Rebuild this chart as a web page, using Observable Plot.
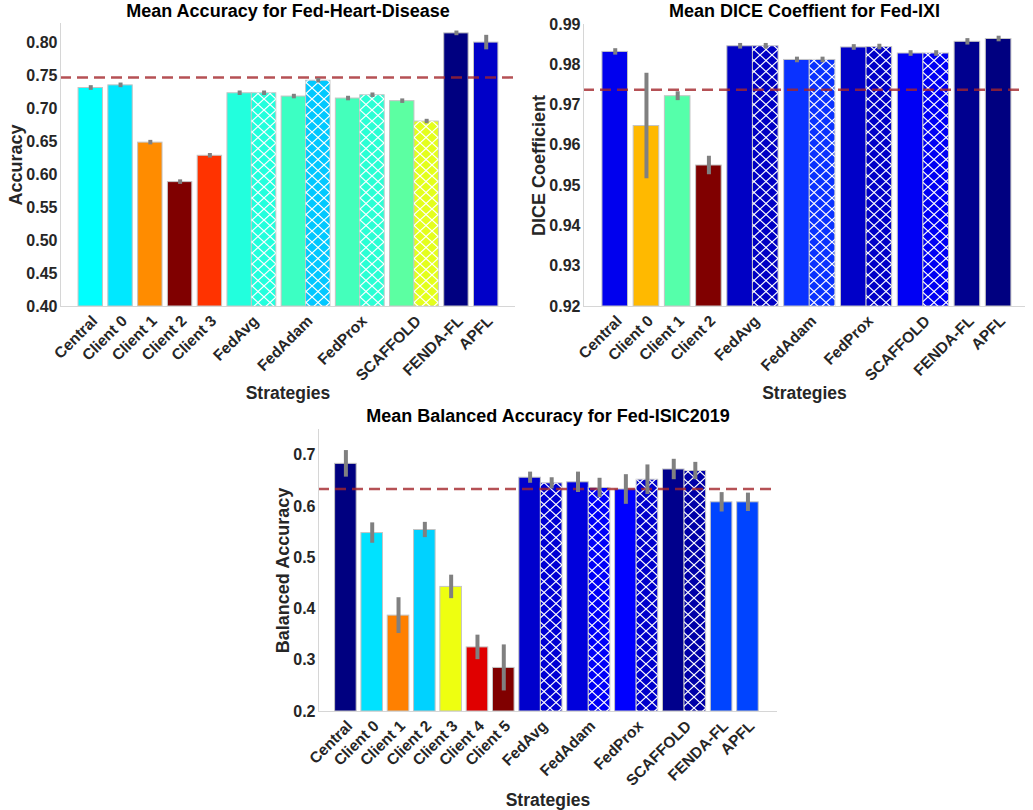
<!DOCTYPE html>
<html><head><meta charset="utf-8">
<script src="https://cdn.jsdelivr.net/npm/d3@7"></script>
<script src="https://cdn.jsdelivr.net/npm/@observablehq/plot@0.6"></script>
<style>
body{margin:0;background:#fff;}
#wrap{position:relative;width:1033px;height:810px;overflow:hidden;background:#fff;}
#wrap > svg{position:absolute;}
</style></head><body>
<svg width="0" height="0" style="position:absolute"><defs>
<pattern id="xh" patternUnits="userSpaceOnUse" width="12" height="11"><path d="M0,0L12,11M12,0L0,11" stroke="#fff" stroke-width="1.2" fill="none"/></pattern>
</defs></svg>
<div id="wrap"></div>
<script>
// ---------- Fed-Heart-Disease ----------
const heartCategories = ["Central","Client 0","Client 1","Client 2","Client 3","FedAvg","FedAdam","FedProx","SCAFFOLD","FENDA-FL","APFL"];
const heartMeans = [[0.732],[0.736],[0.649],[0.589],[0.629],[0.724,0.724],[0.719,0.743],[0.716,0.721],[0.712,0.681],[0.815],[0.801]];
const heartErrors = [[0.0005],[0.0005],[0.0004],[0.0004],[0.0004],[0.0004,0.0004],[0.0004,0.0004],[0.0004,0.0004],[0.0004,0.0004],[0.0005],[0.008]];
const heartColors = [["#00ffff"],["#00e8ff"],["#ff8c00"],["#800000"],["#ff3300"],["#22ffdd","#22ffdd"],["#3cffc3","#00c8ff"],["#44ffbb","#2affd5"],["#5cffa2","#e4ff1c"],["#000080"],["#0000c8"]];
const heartReference = 0.748;
const heartTicks = [0.40,0.45,0.50,0.55,0.60,0.65,0.70,0.75,0.80];

// ---------- Fed-IXI ----------
const ixiCategories = ["Central","Client 0","Client 1","Client 2","FedAvg","FedAdam","FedProx","SCAFFOLD","FENDA-FL","APFL"];
const ixiMeans = [[0.9832],[0.9648],[0.9722],[0.9550],[0.9846,0.9846],[0.9812,0.9812],[0.9843,0.9844],[0.9828,0.9828],[0.9857],[0.9864]];
const ixiErrors = [[0.0003],[0.0126],[0.0006],[0.0018],[0.0002,0.0002],[0.0002,0.0002],[0.0002,0.0002],[0.0002,0.0002],[0.0003],[0.0002]];
const ixiColors = [["#0000ee"],["#ffb900"],["#55ffaa"],["#800000"],["#0000c4","#0000c4"],["#0a32ff","#0a32ff"],["#0000c8","#0000c8"],["#0000f4","#0000f4"],["#00008f"],["#000080"]];
const ixiReference = 0.9738;
const ixiTicks = [0.92,0.93,0.94,0.95,0.96,0.97,0.98,0.99];

// ---------- Fed-ISIC2019 ----------
const isicCategories = ["Central","Client 0","Client 1","Client 2","Client 3","Client 4","Client 5","FedAvg","FedAdam","FedProx","SCAFFOLD","FENDA-FL","APFL"];
const isicMeans = [[0.683],[0.548],[0.387],[0.554],[0.443],[0.325],[0.285],[0.656,0.645],[0.647,0.636],[0.633,0.652],[0.672,0.669],[0.608],[0.608]];
const isicErrors = [[0.022],[0.016],[0.031],[0.011],[0.019],[0.020],[0.041],[0.007,0.007],[0.016,0.015],[0.025,0.025],[0.016,0.013],[0.015],[0.014]];
const isicColors = [["#000080"],["#00e2ff"],["#ff8000"],["#00d2ff"],["#eeff10"],["#e00000"],["#800000"],["#0000cc","#0000d4"],["#0000dc","#0000f8"],["#0000ff","#0000cc"],["#00008c","#0000a8"],["#0044ff"],["#0044ff"]];
const isicReference = 0.634;
const isicTicks = [0.2,0.3,0.4,0.5,0.6,0.7];

const FONT = '"Liberation Sans", Arial, Helvetica, sans-serif';
const GAP = 0.22;

function layoutBars(cats, means, errs, cols) {
  const bars = [], centers = [];
  let pos = 0;
  cats.forEach((c, i) => {
    const start = pos;
    means[i].forEach((m, j) => {
      bars.push({cat: c, x1: pos, x2: pos + 1, xm: pos + 0.5, mean: m, err: errs[i][j], color: cols[i][j], hatch: j === 1});
      pos += 1;
    });
    centers.push((start + pos) / 2);
    pos += GAP;
  });
  return {bars, centers, total: pos - GAP};
}

function panel(o) {
  const {bars, centers, total} = layoutBars(o.cats, o.means, o.errs, o.cols);
  const y0 = o.yDomain[0];
  const nameAt = new Map(centers.map((c, i) => [c, o.cats[i]]));
  const svg = Plot.plot({
    width: o.width, height: o.height,
    marginLeft: o.ml, marginRight: o.mr, marginTop: o.mt, marginBottom: o.mb,
    x: {domain: [-o.padL, total + o.padR], axis: null},
    y: {domain: o.yDomain, axis: null},
    color: {type: "identity"},
    style: {fontFamily: FONT, fontWeight: "bold", color: "#262626", background: "transparent", overflow: "visible"},
    marks: [
      Plot.rect(bars, {x1: "x1", x2: "x2", y1: y0, y2: "mean", fill: "color", stroke: "#c4c4c4", strokeWidth: 1}),
      Plot.rect(bars.filter(d => d.hatch), {x1: "x1", x2: "x2", y1: y0, y2: "mean", fill: "url(#xh)"}),
      Plot.ruleY([o.ref], {stroke: "#a3262b", strokeOpacity: 0.8, strokeWidth: 2.5, strokeDasharray: "11,6"}),
      Plot.ruleX(bars, {x: "xm", y1: d => d.mean - d.err, y2: d => d.mean + d.err, stroke: "#808080", strokeWidth: 4, strokeLinecap: "square"}),
      Plot.ruleY([y0], {stroke: "#d6d6d6", strokeWidth: 1}),
      Plot.ruleX([-o.padL], {stroke: "#d6d6d6", strokeWidth: 1}),
      Plot.axisY({ticks: o.ticks, tickFormat: o.fmt, tickSize: 0, tickPadding: 3, fontSize: 16, fontWeight: "bold", label: null}),
      Plot.axisX({ticks: centers, tickFormat: d => nameAt.get(d), tickRotate: -45, tickSize: 0, tickPadding: 12, dx: 4, fontSize: 15.5, fontWeight: "bold", label: null}),
      Plot.text([o.ylabel], {text: d => d, frameAnchor: "left", textAnchor: "middle", lineAnchor: "middle", dx: -o.ylabOff, rotate: -90, fontSize: 18, fontWeight: "bold"}),
      Plot.text(["Strategies"], {text: d => d, frameAnchor: "bottom", textAnchor: "middle", lineAnchor: "middle", dy: o.xlabOff, fontSize: 17.5, fontWeight: "bold"}),
      Plot.text([o.title], {text: d => d, frameAnchor: "top", textAnchor: "middle", lineAnchor: "middle", dy: o.titleDy, fontSize: 18, fontWeight: "bold", fill: "#000"})
    ]
  });
  svg.style.left = o.left + "px";
  svg.style.top = o.top + "px";
  document.getElementById("wrap").appendChild(svg);
}

panel({cats: heartCategories, means: heartMeans, errs: heartErrors, cols: heartColors, ref: heartReference,
  yDomain: [0.40, 0.83], ticks: heartTicks, fmt: d3.format(".2f"), ylabel: "Accuracy",
  title: "Mean Accuracy for Fed-Heart-Disease",
  left: 0, top: 0, width: 520, height: 400, ml: 60, mr: 5, mt: 23, mb: 94, padL: 0.74, padR: 0.70,
  ylabOff: 44, xlabOff: 87, titleDy: -12});

panel({cats: ixiCategories, means: ixiMeans, errs: ixiErrors, cols: ixiColors, ref: ixiReference,
  yDomain: [0.92, 0.99], ticks: ixiTicks, fmt: d3.format(".2f"), ylabel: "DICE Coefficient",
  title: "Mean DICE Coeffient for Fed-IXI",
  left: 520, top: 0, width: 513, height: 400, ml: 63, mr: 8, mt: 24, mb: 94, padL: 0.74, padR: 0.55,
  ylabOff: 44.7, xlabOff: 87, titleDy: -13});

panel({cats: isicCategories, means: isicMeans, errs: isicErrors, cols: isicColors, ref: isicReference,
  yDomain: [0.2, 0.75], ticks: isicTicks, fmt: d3.format(".1f"), ylabel: "Balanced Accuracy",
  title: "Mean Balanced Accuracy for Fed-ISIC2019",
  left: 250, top: 400, width: 540, height: 410, ml: 68, mr: 13, mt: 29, mb: 99, padL: 0.77, padR: 0.87,
  ylabOff: 35.5, xlabOff: 88.7, titleDy: -13});
</script>
</body></html>
